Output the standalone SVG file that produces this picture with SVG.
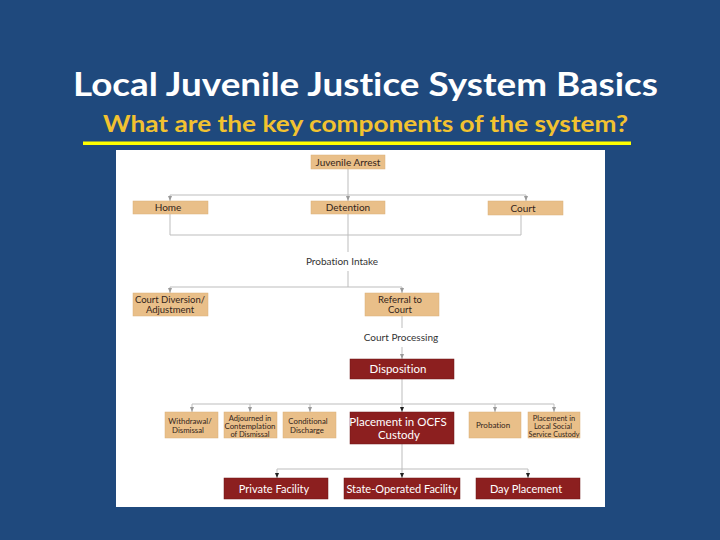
<svg xmlns="http://www.w3.org/2000/svg" width="720" height="540" viewBox="0 0 720 540">
<defs>
<style>
text{font-variant-ligatures:none;}
.title{font-family:Lato,"Open Sans","Liberation Sans",sans-serif;font-weight:bold;fill:#ffffff;}
.sub{font-family:Lato,"Open Sans","Liberation Sans",sans-serif;font-weight:bold;fill:#f2c230;}
.tan{fill:#e9bf89;stroke:#d9b07a;stroke-width:0.5;}
.red{fill:#8c1f1f;stroke:#6e1515;stroke-width:0.5;}
.tt{font-family:Lato,"Liberation Sans",Arial,sans-serif;fill:#33241a;text-anchor:middle;}
.rt{font-family:Lato,"Liberation Sans",Arial,sans-serif;fill:#ffffff;text-anchor:middle;}
.lbl{font-family:Lato,"Liberation Sans",Arial,sans-serif;fill:#333333;text-anchor:middle;font-size:10px;}
.ln{fill:none;stroke:#bdbdbd;stroke-width:1;}
.g{marker-end:url(#ag);}
.b{marker-end:url(#ab);}
</style>
<marker id="ag" markerWidth="5" markerHeight="4" refX="5" refY="2" orient="auto" markerUnits="userSpaceOnUse"><path d="M0,0 L5,2 L0,4 Z" fill="#9a9a9a"/></marker>
<marker id="ab" markerWidth="5" markerHeight="4" refX="5" refY="2" orient="auto" markerUnits="userSpaceOnUse"><path d="M0,0 L5,2 L0,4 Z" fill="#222222"/></marker>
</defs>
<rect x="0" y="0" width="720" height="540" fill="#1f497d"/>
<text class="title" x="365.5" y="96" font-size="33" text-anchor="middle" textLength="585" lengthAdjust="spacingAndGlyphs">Local Juvenile Justice System Basics</text>
<text class="sub" x="365.5" y="132" font-size="23" text-anchor="middle" textLength="525" lengthAdjust="spacingAndGlyphs">What are the key components of the system?</text>
<rect x="83" y="141.5" width="548" height="3.5" fill="#ffff00"/>
<rect x="116" y="150" width="489" height="357" fill="#ffffff"/>
<g id="connectors">
<path class="ln g" d="M348,169 V201"/>
<path class="ln" d="M170,195 H526"/>
<path class="ln g" d="M170,195 V201"/>
<path class="ln g" d="M526,195 V201"/>
<path class="ln" d="M170,214 V235 H521 V215"/>
<path class="ln" d="M348,214 V252"/>
<path class="ln" d="M348,271 V287"/>
<path class="ln" d="M170,287 H402"/>
<path class="ln g" d="M170,287 V293"/>
<path class="ln g" d="M402,287 V293"/>
<path class="ln" d="M402,316 V328"/>
<path class="ln g" d="M402,347 V359"/>
<path class="ln b" d="M402,379 V412"/>
<path class="ln" d="M192,404 H554"/>
<path class="ln g" d="M192,404 V412"/>
<path class="ln g" d="M250,404 V412"/>
<path class="ln g" d="M310,404 V412"/>
<path class="ln g" d="M495,404 V412"/>
<path class="ln g" d="M554,404 V412"/>
<path class="ln b" d="M402,444 V478"/>
<path class="ln" d="M277,469 H528"/>
<path class="ln b" d="M277,469 V478"/>
<path class="ln b" d="M528,469 V478"/>
</g>
<g id="arrest"><rect class="tan" x="311" y="155" width="74" height="14"/><text class="tt" x="348" y="165.5" font-size="10">Juvenile Arrest</text></g>
<g id="home"><rect class="tan" x="133" y="201" width="75" height="13"/><text class="tt" x="168" y="211" font-size="10">Home</text></g>
<g id="detention"><rect class="tan" x="311" y="201" width="74" height="13"/><text class="tt" x="348" y="211" font-size="10">Detention</text></g>
<g id="court"><rect class="tan" x="488" y="201" width="75" height="14"/><text class="tt" x="523" y="211.5" font-size="10">Court</text></g>
<g id="intake"><text class="lbl" x="342" y="265">Probation Intake</text></g>
<g id="diversion"><rect class="tan" x="133" y="293" width="75" height="23"/><text class="tt" x="170" y="302.5" font-size="9.5">Court Diversion/</text><text class="tt" x="170" y="312.5" font-size="9.5">Adjustment</text></g>
<g id="referral"><rect class="tan" x="365" y="293" width="74" height="23"/><text class="tt" x="400" y="302.5" font-size="9.5">Referral to</text><text class="tt" x="400" y="312.5" font-size="9.5">Court</text></g>
<g id="processing"><text class="lbl" x="401" y="341">Court Processing</text></g>
<g id="disposition"><rect class="red" x="350" y="359" width="104" height="20"/><text class="rt" x="398" y="373" font-size="11.5">Disposition</text></g>
<g id="withdrawal"><rect class="tan" x="165" y="412" width="53" height="26"/><text class="tt" x="190" y="424" font-size="7.8">Withdrawal/</text><text class="tt" x="188" y="433" font-size="7.8">Dismissal</text></g>
<g id="adjourned"><rect class="tan" x="224" y="412" width="53" height="26"/><text class="tt" x="250" y="420.5" font-size="7.5">Adjourned in</text><text class="tt" x="250" y="428.7" font-size="7.5" textLength="51" lengthAdjust="spacingAndGlyphs">Contemplation</text><text class="tt" x="250" y="436.9" font-size="7.5">of Dismissal</text></g>
<g id="conditional"><rect class="tan" x="283" y="412" width="53" height="26"/><text class="tt" x="308" y="424" font-size="7.8">Conditional</text><text class="tt" x="307" y="433" font-size="7.8">Discharge</text></g>
<g id="ocfs"><rect class="red" x="350" y="412" width="104" height="32"/><text class="rt" x="398" y="425.5" font-size="11.5">Placement in OCFS</text><text class="rt" x="399" y="439" font-size="11.5">Custody</text></g>
<g id="probation"><rect class="tan" x="469" y="412" width="52" height="26"/><text class="tt" x="493" y="428" font-size="8">Probation</text></g>
<g id="localsocial"><rect class="tan" x="528" y="412" width="52" height="26"/><text class="tt" x="554" y="420.5" font-size="7.5">Placement in</text><text class="tt" x="553" y="428.7" font-size="7.5">Local Social</text><text class="tt" x="554" y="436.9" font-size="7.5" textLength="51" lengthAdjust="spacingAndGlyphs">Service Custody</text></g>
<g id="private"><rect class="red" x="224" y="478" width="104" height="21"/><text class="rt" x="274" y="492.5" font-size="11">Private Facility</text></g>
<g id="state"><rect class="red" x="344" y="478" width="116" height="21"/><text class="rt" x="402" y="492.5" font-size="11">State-Operated Facility</text></g>
<g id="day"><rect class="red" x="476" y="478" width="104" height="21"/><text class="rt" x="526" y="492.5" font-size="11">Day Placement</text></g>
</svg>
